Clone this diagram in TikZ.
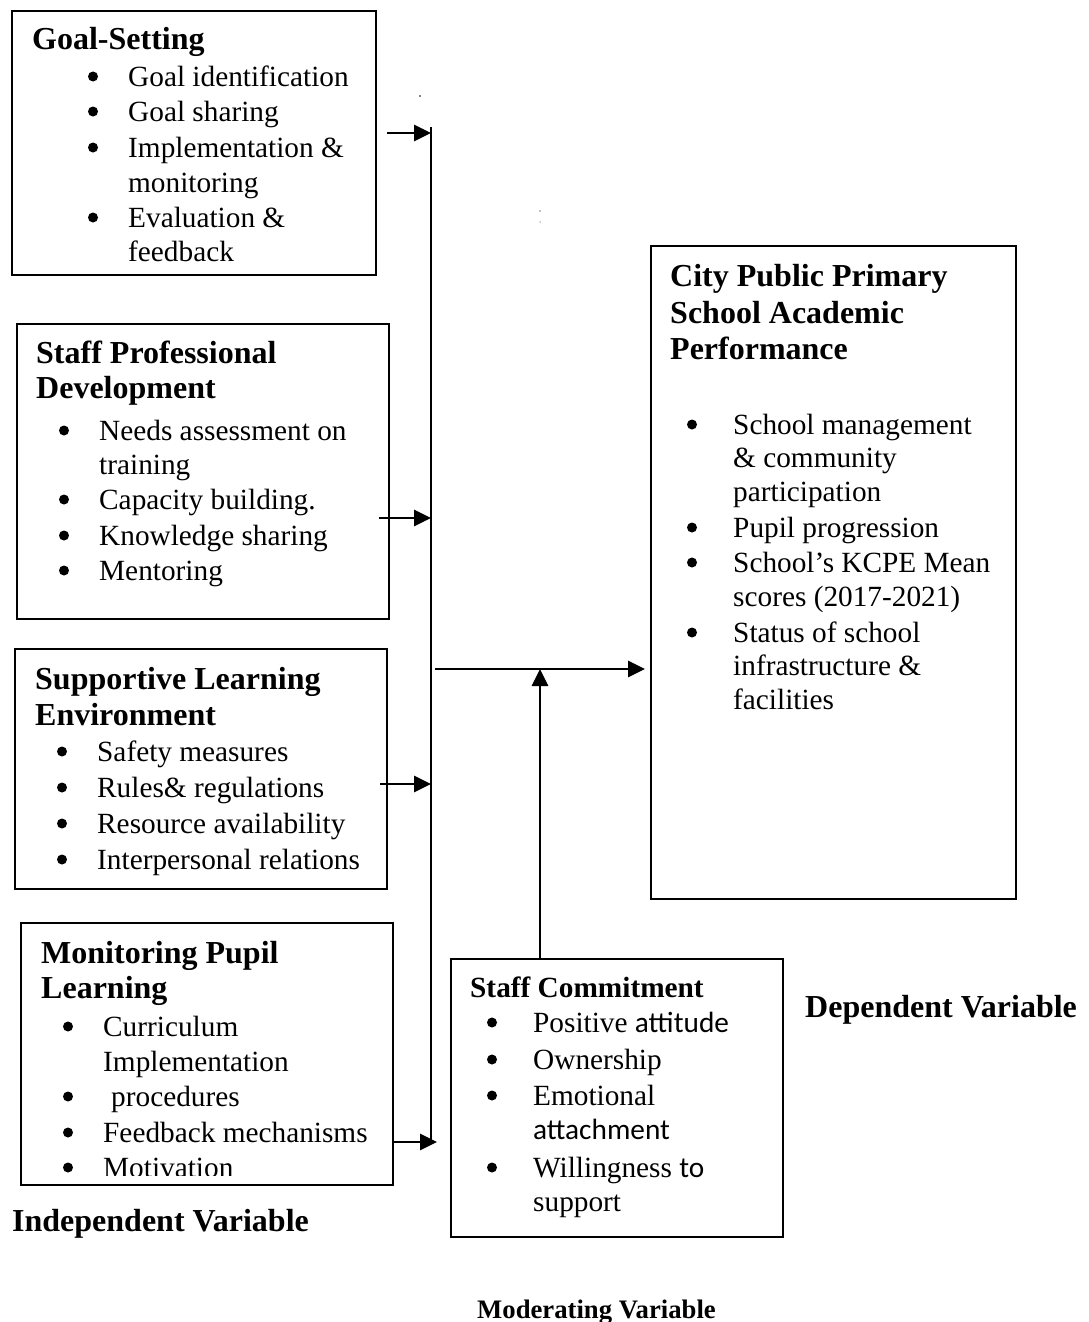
\documentclass[tikz,border=0pt]{standalone}
\usepackage{fontspec}
\setmainfont{Liberation Serif}
\newfontfamily\calibri{Carlito}
\usetikzlibrary{arrows.meta}
\newcommand\bodyfont{\fontsize{29.3}{34}\selectfont}
\newcommand\titlefont{\fontsize{32}{38}\selectfont\bfseries}
\newcommand\sctitlefont{\fontsize{29.3}{35}\selectfont\bfseries}
\newcommand\modfont{\fontsize{26.7}{32}\selectfont\bfseries}
\tikzset{
  box/.style={draw, line width=1.8pt, inner sep=0pt, anchor=north west},
  arr/.style={line width=2.8pt, -{Triangle[length=17pt,width=16pt]}},
  bus/.style={line width=2.2pt},
  tl/.style={anchor=base west, inner sep=0pt, font=\bodyfont, text height=20pt, text depth=6pt},
  ttl/.style={anchor=base west, inner sep=0pt, font=\titlefont, text height=22pt, text depth=7pt},
  sttl/.style={anchor=base west, inner sep=0pt, font=\sctitlefont, text height=20pt, text depth=6pt},
  mttl/.style={anchor=base west, inner sep=0pt, font=\modfont},
}
\def\boff{35}
% title line, plain line, bullet line (text at #2, round bullet \boff to its left)
\newcommand\TT[4]{\node[ttl] (#1) at (#2,#3) {#4};}
\newcommand\TL[4]{\node[tl] (#1) at (#2,#3) {#4};}
\newcommand\BL[4]{\fill ({#2-\boff},{#3-9.5}) circle (5pt); \node[tl] (#1) at (#2,#3) {#4};}
\begin{document}
\begin{tikzpicture}[x=1pt,y=-1pt]
\useasboundingbox (0,0) rectangle (1088,1322);

% ---------- boxes ----------
\node[box, minimum width=364pt, minimum height=264pt] (gs)  at (11,10) {};
\node[box, minimum width=372pt, minimum height=295pt] (spd) at (16,323) {};
\node[box, minimum width=372pt, minimum height=240pt] (sle) at (14,648) {};
\node[box, minimum width=372pt, minimum height=262pt] (mpl) at (20,922) {};
\node[box, minimum width=332pt, minimum height=278pt] (sc)  at (450,958) {};
\node[box, minimum width=365pt, minimum height=653pt] (dv)  at (650,245) {};

% ---------- Goal-Setting ----------
\TT{gs0}{32}{50}{Goal-Setting}
\BL{gs1}{128}{86}{Goal identification}
\BL{gs2}{128}{121}{Goal sharing}
\BL{gs3}{128}{157}{Implementation \&}
\TL{gs4}{128}{192}{monitoring}
\BL{gs5}{128}{227}{Evaluation \&}
\TL{gs6}{128}{261}{feedback}

% ---------- Staff Professional Development ----------
\TT{spd0}{36}{363}{Staff Professional}
\TT{spd1}{36}{398}{Development}
\BL{spd2}{99}{440}{Needs assessment on}
\TL{spd3}{99}{474}{training}
\BL{spd4}{99}{509}{Capacity building.}
\BL{spd5}{99}{545}{Knowledge sharing}
\BL{spd6}{99}{580}{Mentoring}

% ---------- Supportive Learning Environment ----------
\TT{sle0}{35}{689}{Supportive Learning}
\TT{sle1}{35}{725}{Environment}
\BL{sle2}{97}{761}{Safety measures}
\BL{sle3}{97}{797}{Rules\& regulations}
\BL{sle4}{97}{833}{Resource availability}
\BL{sle5}{97}{869}{Interpersonal relations}

% ---------- Monitoring Pupil Learning ----------
\TT{mpl0}{41}{963}{Monitoring Pupil}
\TT{mpl1}{41}{998}{Learning}
\BL{mpl2}{103}{1036}{Curriculum}
\TL{mpl3}{103}{1071}{Implementation}
\fill (68,1096.5) circle (5pt);
\node[tl] (mpl4) at (111,1106) {procedures};
\BL{mpl5}{103}{1142}{Feedback mechanisms}
\begin{scope}
  \clip (20,1100) rectangle (392,1175);
  \BL{mpl6}{103}{1177}{Motivation}
\end{scope}

\def\boff{41}
% ---------- Staff Commitment ----------
\node[sttl] (sc0) at (470,997) {Staff Commitment};
\BL{sc1}{533}{1032}{Positive {\calibri attitude}}
\BL{sc2}{533}{1069}{Ownership}
\BL{sc3}{533}{1105}{Emotional}
\TL{sc4}{533}{1139}{\calibri attachment}
\BL{sc5}{533}{1177}{Willingness {\calibri to}}
\TL{sc6}{533}{1211}{support}

% ---------- Dependent ----------
\TT{dv0}{670}{286}{City Public Primary}
\TT{dv1}{670}{323}{School Academic}
\TT{dv2}{670}{359}{Performance}
\BL{dv3}{733}{434}{School management}
\TL{dv4}{733}{467}{\& community}
\TL{dv5}{733}{501}{participation}
\BL{dv6}{733}{537}{Pupil progression}
\BL{dv7}{733}{572}{School’s KCPE Mean}
\TL{dv8}{733}{606}{scores (2017-2021)}
\BL{dv9}{733}{642}{Status of school}
\TL{dv10}{733}{675}{infrastructure \&}
\TL{dv11}{733}{709}{facilities}

% ---------- variable labels ----------
\TT{ldep}{805}{1017}{Dependent Variable}
\TT{lind}{12}{1231}{Independent Variable}
\node[mttl] (lmod) at (477,1318) {Moderating Variable};

% ---------- connectors ----------
\coordinate (bustop) at (431,127);
\coordinate (busbot) at (431,1140);
\draw[bus] (bustop) -- (busbot);

\coordinate (a1) at (387,133);
\coordinate (a2) at (379,518);
\coordinate (a3) at (380,784);
\coordinate (a4) at (437,1142);
\draw[arr] (a1) -- (a1 -| bustop);
\draw[arr] (a2) -- (a2 -| bustop);
\draw[arr] (a3) -- (a3 -| bustop);
\draw[arr] (mpl.east |- a4) -- (a4);

\coordinate (hm) at (435,669);
\coordinate (hmend) at (645,669);
\draw[arr] (hm) -- (hmend);
\coordinate (up) at (540,958);
\draw[arr] (up) -- (up |- hm);

% stray specks
\fill (420,96) circle (0.9pt);
\fill (540,211) circle (0.7pt);
\fill (540,222) circle (0.5pt);
\end{tikzpicture}
\end{document}
